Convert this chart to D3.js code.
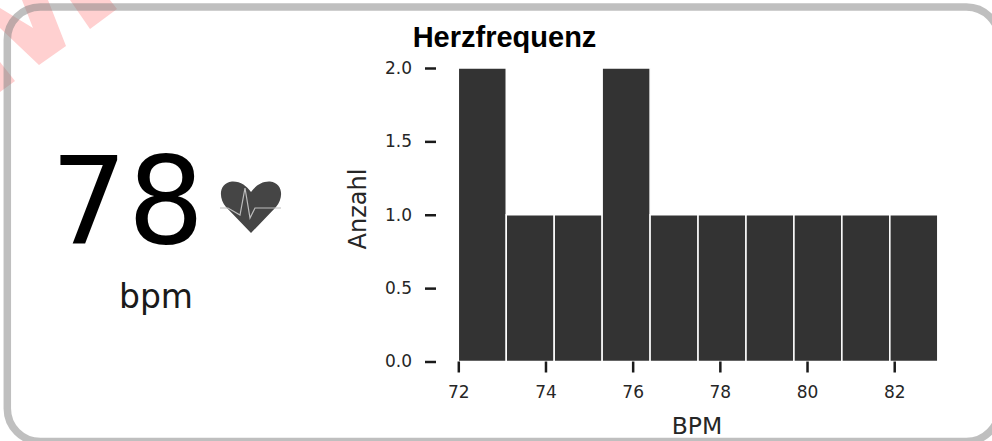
<!DOCTYPE html>
<html>
<head>
<meta charset="utf-8">
<title>Herzfrequenz</title>
<script src="https://d3js.org/d3.v7.min.js"></script>
<style>
    body {
        margin: 0;
        overflow: hidden;
        background: #fff;
    }
    svg { display: block; }
    text {
        font-family: "DejaVu Sans", sans-serif;
        fill: #000;
    }
</style>
</head>
<body>
<script>
    const currentBpm = "78";
    const unitLabel = "bpm";
    const chartTitle = "Herzfrequenz";
    const xLabel = "BPM";
    const yLabel = "Anzahl";
    const binEdges = [72, 73.1, 74.2, 75.3, 76.4, 77.5, 78.6, 79.7, 80.8, 81.9, 83];
    const binCounts = [2, 1, 1, 2, 1, 1, 1, 1, 1, 1];
    const xTicks = [72, 74, 76, 78, 80, 82];
    const yTicks = [0, 0.5, 1, 1.5, 2];

    const width = 992;
    const height = 441;

    const svg = d3.select("body")
        .append("svg")
        .attr("width", width)
        .attr("height", height);

    // watermark, sits under the card border
    svg.append("g")
        .attr("fill", "#ffd0d0")
        .selectAll("path")
        .data([
            "M0,62 L15,81 L0,92 Z",
            "M22,0 L48,0 L66,46 L39,65 L0,28 L0,8 L33,28 Z",
            "M70,0 L110,0 L117,9 L90,29 Z"
        ])
        .join("path")
        .attr("d", d => d);

    // card border
    svg.append("rect")
        .attr("x", 7.3)
        .attr("y", 7)
        .attr("width", 992)
        .attr("height", 434.5)
        .attr("rx", 33)
        .attr("fill", "none")
        .attr("stroke", "#808080")
        .attr("stroke-opacity", 0.5)
        .attr("stroke-width", 7.5);

    svg.append("text")
        .attr("x", 127.5)
        .attr("y", 243)
        .attr("text-anchor", "middle")
        .style("font-size", "121px")
        .text(currentBpm);

    svg.append("text")
        .attr("x", 156)
        .attr("y", 308)
        .attr("text-anchor", "middle")
        .style("font-size", "33px")
        .style("fill", "#1a1a1a")
        .text(unitLabel);

    // heart icon
    const heart = svg.append("g").attr("transform", "translate(251,197)");
    heart.append("path")
        .attr("d", "M0,36 L-25,10 C-33,1 -32,-14 -19,-15.5 C-11,-16 -4,-11 0,-5 C4,-11 11,-16 19,-15.5 C32,-14 33,1 25,10 Z")
        .attr("fill", "#454545");
    heart.append("path")
        .attr("d", "M-31,11 L-23,11 L-11,18 L-6,-9 L-1,21 L4,11 L30,11")
        .attr("fill", "none")
        .attr("stroke", "#bdbdbd")
        .attr("stroke-width", 1.2);

    const x = d3.scaleLinear().domain([72, 83]).range([458.3, 937.8]);
    const y = d3.scaleLinear().domain([0, 2]).range([361.5, 68]);

    svg.append("g")
        .selectAll("rect")
        .data(binCounts)
        .join("rect")
        .attr("x", (d, i) => x(binEdges[i]))
        .attr("y", d => y(d))
        .attr("width", (d, i) => x(binEdges[i + 1]) - x(binEdges[i]))
        .attr("height", d => y(0) - y(d))
        .attr("fill", "#333333")
        .attr("stroke", "#ffffff")
        .attr("stroke-width", 1.5);

    const xAxis = svg.append("g")
        .attr("transform", "translate(0,361.5)")
        .call(d3.axisBottom(x).tickValues(xTicks).tickFormat(d3.format("d")).tickSize(11).tickPadding(13));
    xAxis.select(".domain").remove();
    xAxis.selectAll("line").attr("stroke", "#1a1a1a").attr("stroke-width", 2.5);
    xAxis.selectAll("text").style("font-size", "17px").style("fill", "#262626");

    const yAxis = svg.append("g")
        .attr("transform", "translate(436,0)")
        .call(d3.axisLeft(y).tickValues(yTicks).tickFormat(d3.format(".1f")).tickSize(11).tickPadding(13));
    yAxis.select(".domain").remove();
    yAxis.selectAll("line").attr("stroke", "#1a1a1a").attr("stroke-width", 2.5);
    yAxis.selectAll("text").style("font-size", "17px").style("fill", "#262626");

    svg.append("text")
        .attr("x", 504.5)
        .attr("y", 47)
        .attr("text-anchor", "middle")
        .style("font-family", "'Liberation Sans', sans-serif")
        .style("font-weight", "bold")
        .style("font-size", "29px")
        .text(chartTitle);

    svg.append("text")
        .attr("x", 697)
        .attr("y", 434)
        .attr("text-anchor", "middle")
        .style("font-size", "23.5px")
        .style("fill", "#262626")
        .text(xLabel);

    svg.append("text")
        .attr("transform", "translate(366,209) rotate(-90)")
        .attr("text-anchor", "middle")
        .style("font-size", "24px")
        .style("fill", "#262626")
        .text(yLabel);
</script>
</body>
</html>
